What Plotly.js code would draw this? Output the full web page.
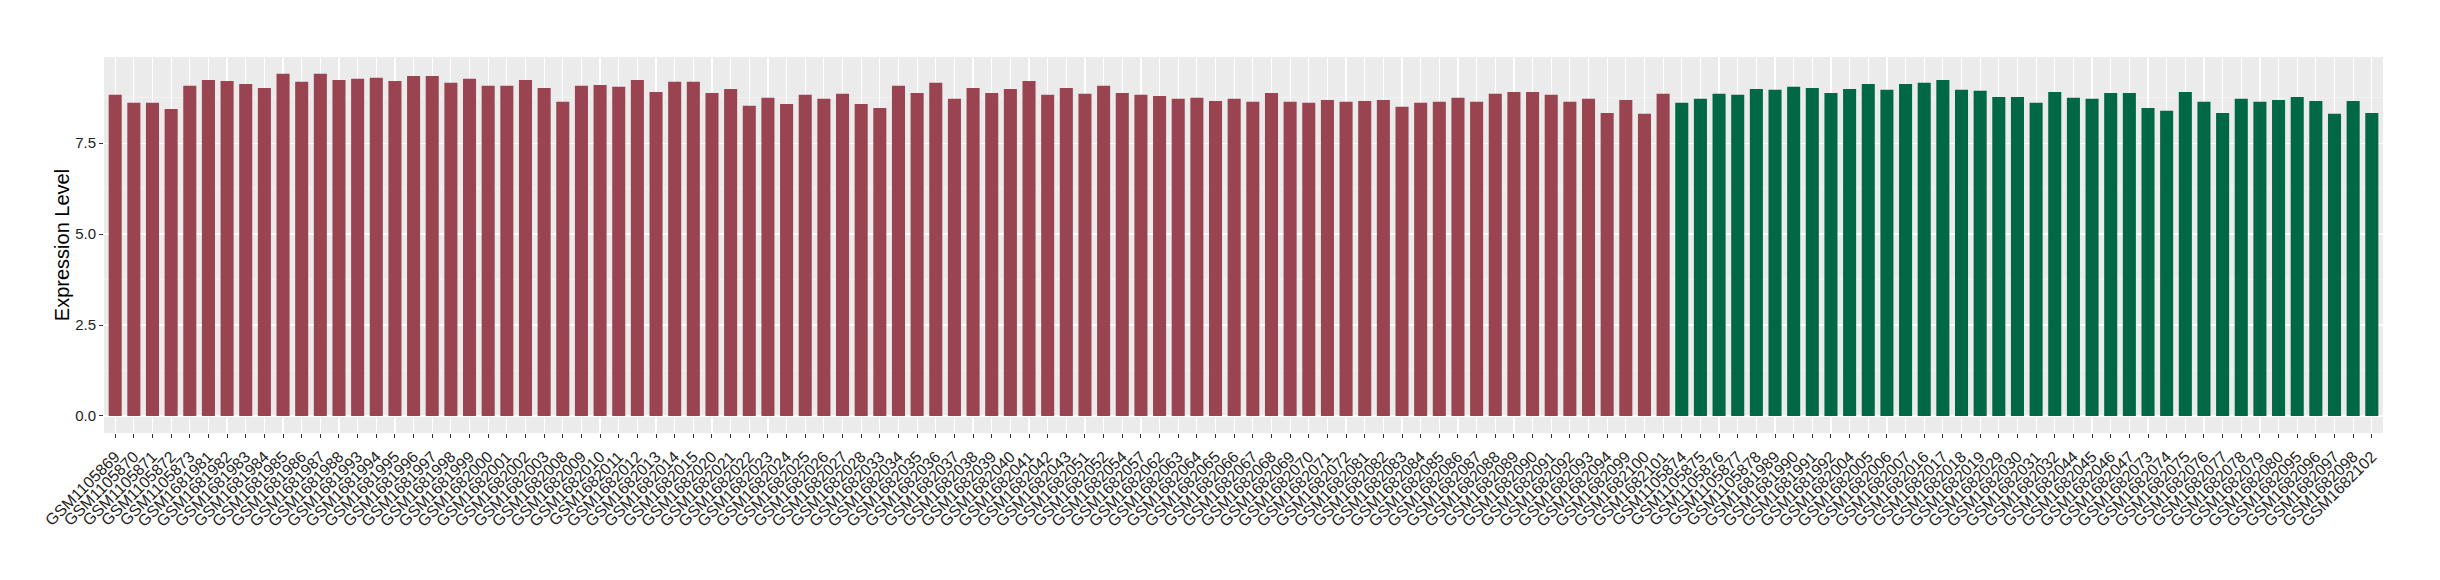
<!DOCTYPE html>
<html>
<head>
<meta charset="utf-8">
<script src="https://cdn.plot.ly/plotly-3.0.1.min.js"></script>
<style>html,body{margin:0;padding:0;background:#fff;}#chart{width:2440px;height:580px;}</style>
</head>
<body>
<div id="chart"></div>
<script>
// Group 1 (red) samples and values
const groupASamples = [
  "GSM1105869","GSM1105870","GSM1105871","GSM1105872","GSM1105873",
  "GSM1681981","GSM1681982","GSM1681983","GSM1681984","GSM1681985","GSM1681986","GSM1681987","GSM1681988",
  "GSM1681993","GSM1681994","GSM1681995","GSM1681996","GSM1681997","GSM1681998","GSM1681999",
  "GSM1682000","GSM1682001","GSM1682002","GSM1682003",
  "GSM1682008","GSM1682009","GSM1682010","GSM1682011","GSM1682012","GSM1682013","GSM1682014","GSM1682015",
  "GSM1682020","GSM1682021","GSM1682022","GSM1682023","GSM1682024","GSM1682025","GSM1682026","GSM1682027","GSM1682028",
  "GSM1682033","GSM1682034","GSM1682035","GSM1682036","GSM1682037","GSM1682038","GSM1682039","GSM1682040","GSM1682041","GSM1682042","GSM1682043",
  "GSM1682051","GSM1682052","GSM1682054","GSM1682057",
  "GSM1682062","GSM1682063","GSM1682064","GSM1682065","GSM1682066","GSM1682067","GSM1682068","GSM1682069","GSM1682070","GSM1682071","GSM1682072",
  "GSM1682081","GSM1682082","GSM1682083","GSM1682084","GSM1682085","GSM1682086","GSM1682087","GSM1682088","GSM1682089","GSM1682090","GSM1682091","GSM1682092","GSM1682093","GSM1682094",
  "GSM1682099","GSM1682100","GSM1682101"
];
const groupAValues = [
  8.83,8.61,8.61,8.44,9.08,
  9.24,9.21,9.13,9.02,9.41,9.19,9.41,9.24,
  9.27,9.30,9.21,9.35,9.35,9.16,9.27,
  9.08,9.08,9.24,9.02,
  8.64,9.08,9.10,9.05,9.24,8.91,9.19,9.19,
  8.88,8.99,8.53,8.75,8.58,8.83,8.72,8.86,8.58,
  8.47,9.08,8.88,9.16,8.72,9.02,8.88,8.99,9.21,8.83,9.02,
  8.86,9.08,8.88,8.83,
  8.80,8.72,8.75,8.66,8.72,8.64,8.88,8.64,8.61,8.69,8.64,
  8.66,8.69,8.50,8.61,8.64,8.75,8.64,8.86,8.91,8.91,8.83,8.64,8.72,8.33,
  8.69,8.31,8.86
];
// Group 2 (green) samples and values
const groupBSamples = [
  "GSM1105874","GSM1105875","GSM1105876","GSM1105877","GSM1105878",
  "GSM1681989","GSM1681990","GSM1681991","GSM1681992",
  "GSM1682004","GSM1682005","GSM1682006","GSM1682007",
  "GSM1682016","GSM1682017","GSM1682018","GSM1682019",
  "GSM1682029","GSM1682030","GSM1682031","GSM1682032",
  "GSM1682044","GSM1682045","GSM1682046","GSM1682047",
  "GSM1682073","GSM1682074","GSM1682075","GSM1682076","GSM1682077","GSM1682078","GSM1682079","GSM1682080",
  "GSM1682095","GSM1682096","GSM1682097","GSM1682098",
  "GSM1682102"
];
const groupBValues = [
  8.61,8.72,8.86,8.83,8.99,
  8.97,9.05,9.02,8.88,
  8.99,9.13,8.97,9.13,
  9.16,9.24,8.97,8.94,
  8.77,8.77,8.61,8.91,
  8.75,8.72,8.88,8.88,
  8.47,8.39,8.91,8.64,8.33,8.72,8.64,8.69,
  8.77,8.66,8.31,8.66,
  8.33
];
const yTickVals = [0, 2.5, 5, 7.5];
const yTickText = ["0.0", "2.5", "5.0", "7.5"];

const allSamples = groupASamples.concat(groupBSamples);
const FONT = "Liberation Sans, Arial, Helvetica, sans-serif";

const traces = [
  {type: "bar", x: groupASamples, y: groupAValues, width: 0.7,
   marker: {color: "#9A4451", line: {width: 0}}, showlegend: false, hoverinfo: "x+y"},
  {type: "bar", x: groupBSamples, y: groupBValues, width: 0.7,
   marker: {color: "#006845", line: {width: 0}}, showlegend: false, hoverinfo: "x+y"}
];

const layout = {
  width: 2440, height: 580,
  margin: {l: 104, r: 57, t: 57, b: 147, pad: 0},
  paper_bgcolor: "#ffffff",
  plot_bgcolor: "#EBEBEB",
  barmode: "overlay",
  font: {family: FONT, color: "#333333"},
  xaxis: {
    type: "category",
    categoryorder: "array",
    categoryarray: allSamples,
    tickmode: "array",
    tickvals: allSamples,
    ticktext: allSamples,
    range: [-0.6, allSamples.length - 0.4],
    showgrid: true, gridcolor: "#FFFFFF", gridwidth: 1.2,
    zeroline: false, showline: false,
    ticks: "outside", ticklen: 4, tickwidth: 1, tickcolor: "#333333",
    tickangle: -45,
    ticklabelstandoff: 3,
    tickfont: {family: FONT, size: 16, color: "#222222"},
    automargin: false
  },
  yaxis: {
    range: [-0.47, 9.87],
    tickvals: yTickVals, ticktext: yTickText,
    showgrid: true, gridcolor: "#FFFFFF", gridwidth: 1.2,
    minor: {tick0: 0, dtick: 1.25, showgrid: true, gridcolor: "#F5F5F5", gridwidth: 0.6, ticks: ""},
    zeroline: false, showline: false,
    ticks: "outside", ticklen: 4, tickwidth: 1, tickcolor: "#333333",
    tickfont: {family: FONT, size: 15, color: "#222222"},
    title: {text: "Expression Level", font: {family: FONT, size: 20, color: "#000000"}, standoff: 0},
    automargin: false
  }
};

Plotly.newPlot("chart", traces, layout, {staticPlot: true, displayModeBar: false});
</script>
</body>
</html>
